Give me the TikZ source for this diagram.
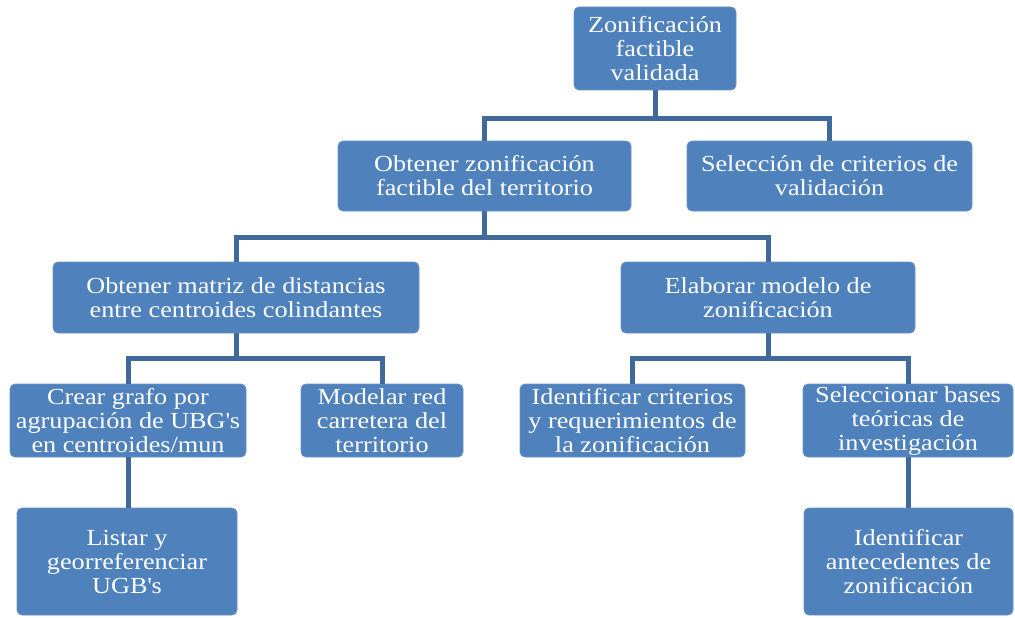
\documentclass[tikz,border=0pt]{standalone}
\usepackage{fontspec}
\setmainfont{Liberation Serif}[FakeStretch=1.14]
\definecolor{boxfill}{HTML}{4F81BD}
\definecolor{boxline}{HTML}{6A93C6}
\definecolor{connc}{HTML}{41699B}
\begin{document}
\begin{tikzpicture}[x=1pt,y=-1pt,
  box/.style={draw=boxline, fill=boxfill, rounded corners=5pt, line width=0.8pt,
    text=white, align=center, inner sep=0pt,
    font=\fontsize{23}{24}\selectfont},
  conn/.style={draw=connc, line width=5pt}]
\useasboundingbox (0,0) rectangle (1015,618);
\node[box, minimum width=162, minimum height=83] (n1) at (655,48.5) {Zonificación\\factible\\validada};
\node[box, minimum width=293, minimum height=70] (n2) at (484.5,176) {Obtener zonificación\\factible del territorio};
\node[box, minimum width=285, minimum height=70] (n3) at (829.5,176) {Selección de criterios de\\validación};
\node[box, minimum width=366, minimum height=71] (n4) at (236,297.5) {Obtener matriz de distancias\\entre centroides colindantes};
\node[box, minimum width=294, minimum height=71] (n5) at (768,297.5) {Elaborar modelo de\\zonificación};
\node[box, minimum width=236, minimum height=73] (n6) at (128,420.5) {Crear grafo por\\agrupación de UBG\textquotesingle s\\en centroides/mun};
\node[box, minimum width=162, minimum height=73] (n7) at (382,420.5) {Modelar red\\carretera del\\territorio};
\node[box, minimum width=225, minimum height=73] (n8) at (632.5,420.5) {Identificar criterios\\y requerimientos de\\la zonificación};
\node[box, minimum width=210, minimum height=73] (n9) at (908,420.5) {Seleccionar bases\\teóricas de\\investigación};
\node[box, minimum width=220, minimum height=107] (n10) at (127,561.5) {Listar y\\georreferenciar\\UGB\textquotesingle s};
\node[box, minimum width=209, minimum height=107] (n11) at (908.5,561.5) {Identificar\\antecedentes de\\zonificación};
% connectors
\draw[conn] (n1.south) -- ++(0,28) coordinate (j1);
\draw[conn] (j1) -| (n2.north);
\draw[conn] (j1) -| (n3.north);
\draw[conn] (n2.south) -- ++(0,26) coordinate (j2);
\draw[conn] (j2) -| (n4.north);
\draw[conn] (j2) -| (n5.north);
\draw[conn] (n4.south) -- ++(0,25) coordinate (j3);
\draw[conn] (j3) -| (n6.north);
\draw[conn] (j3) -| (n7.north);
\draw[conn] (n5.south) -- ++(0,25) coordinate (j4);
\draw[conn] (j4) -| (n8.north);
\draw[conn] (j4) -| (n9.north);
\draw[conn] (n6.south) -- (n6.south |- n10.north);
\draw[conn] (n9.south) -- (n9.south |- n11.north);
\end{tikzpicture}
\end{document}
